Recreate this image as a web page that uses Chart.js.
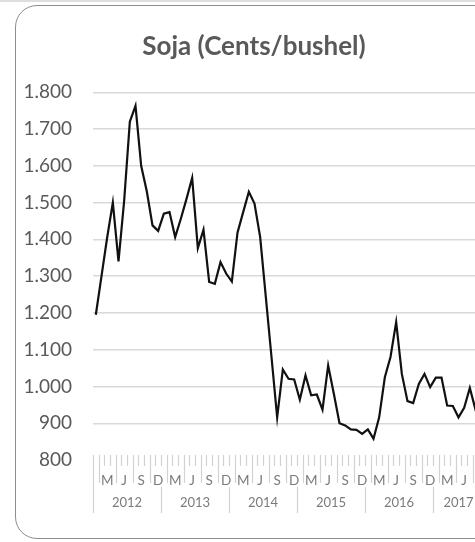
<!DOCTYPE html>
<html>
<head>
<meta charset="utf-8">
<script src="https://cdn.jsdelivr.net/npm/chart.js@4.4.1/dist/chart.umd.min.js"></script>
<style>
  html, body { margin: 0; padding: 0; background: #fff; overflow: hidden; }
  .strip { position: absolute; left: 0; top: 0; width: 100%; height: 2px; background: #dedede; }
  .card {
    position: absolute; left: 15px; top: 5px; width: 560px; height: 534px;
    border: 1.5px solid #8d8d94; border-radius: 22px; box-sizing: border-box;
  }
  .wrap { position: absolute; left: 0; top: 0; width: 500px; height: 542px; }
</style>
</head>
<body>
<div class="strip"></div>
<div class="card"></div>
<div class="wrap"><canvas id="canvasSoja"></canvas></div>
<script>
// Soja, cents/bushel, monthly from Jan 2012 to Sep 2017
const years = ['2012', '2013', '2014', '2015', '2016', '2017'];
const monthLetters = ['J', 'F', 'M', 'A', 'M', 'J', 'J', 'A', 'S', 'O', 'N', 'D'];
const sojaValues = [
    1195, 1300, 1405, 1500, 1340, 1505, 1720, 1763, 1600, 1530, 1438, 1423, // 2012
    1470, 1474, 1406, 1456, 1510, 1567, 1376, 1426, 1284, 1279, 1338, 1307, // 2013
    1285, 1418, 1474, 1529, 1497, 1406, 1243, 1080, 916, 1046, 1021, 1019,  // 2014
    964, 1030, 976, 978, 937, 1057, 980, 900, 894, 883, 882, 871,           // 2015
    883, 858, 916, 1025, 1080, 1175, 1034, 960, 955, 1007, 1034, 998,       // 2016
    1024, 1024, 948, 947, 916, 942, 996, 937, 955                           // 2017
];
const yTicks = { min: 800, max: 1800, step: 100 };

const monthLabels = sojaValues.map((v, i) => monthLetters[i % 12]);

const fmtThousands = (v) => {
    const s = String(v);
    return s.length > 3 ? s.slice(0, s.length - 3) + '.' + s.slice(-3) : s;
};

const FONT = 'Lato';

// draws the tick marks, label separators and the year row under the months
const yearAxisPlugin = {
    id: 'yearAxis',
    afterDraw(chart) {
        const x = chart.scales.x;
        const ctx = chart.ctx;
        const step = x.getPixelForValue(1) - x.getPixelForValue(0);
        const edge = (k) => x.getPixelForValue(k) - step / 2;
        const y0 = x.top;

        ctx.save();
        ctx.strokeStyle = '#d2d2d2';
        ctx.lineWidth = 1.2;
        const seg = (px, a, b) => {
            ctx.beginPath();
            ctx.moveTo(px, a);
            ctx.lineTo(px, b);
            ctx.stroke();
        };
        for (let k = 0; k <= sojaValues.length; k++) {
            const px = Math.round(edge(k)) + 0.5;
            if (k === 0) {
                seg(px, y0 - 5, y0 + 53);
            } else if (k % 12 === 0) {
                seg(px, y0 - 5, y0 + 6);
                seg(px, y0 + 27, y0 + 53);
            } else if (k % 3 === 1) {
                seg(px, y0 - 5, y0 + 23);
            } else {
                seg(px, y0 - 5, y0 + 6);
            }
        }

        ctx.fillStyle = '#7b7b7b';
        ctx.font = `13px ${FONT}`;
        ctx.textAlign = 'center';
        ctx.textBaseline = 'middle';
        years.forEach((yr, j) => {
            const first = j * 12;
            const last = Math.min(first + 11, sojaValues.length - 1);
            const cx = (edge(first) + edge(last + 1)) / 2;
            ctx.fillText(yr, cx, y0 + 43);
        });
        ctx.restore();
    }
};

const chartCanvas = document.getElementById('canvasSoja');

new Chart(chartCanvas, {
    type: 'line',
    data: {
        labels: monthLabels,
        datasets: [{
            label: 'Soja',
            data: sojaValues,
            borderColor: '#111111',
            borderWidth: 2.2,
            pointRadius: 0,
            tension: 0,
            fill: false
        }]
    },
    options: {
        responsive: true,
        maintainAspectRatio: false,
        animation: false,
        layout: { padding: { left: 24, right: 16, top: 0, bottom: 0 } },
        plugins: {
            legend: { display: false },
            tooltip: { enabled: false },
            title: {
                display: true,
                text: 'Soja (Cents/bushel)',
                color: '#595959',
                font: { family: FONT, size: 26, weight: 'bold' },
                padding: { top: 31, bottom: 30 }
            }
        },
        scales: {
            x: {
                type: 'category',
                offset: true,
                grid: { display: false },
                border: { display: false },
                ticks: {
                    autoSkip: false,
                    maxRotation: 0,
                    minRotation: 0,
                    padding: 5,
                    color: '#7b7b7b',
                    font: { family: FONT, size: 13.5 },
                    callback: (value, index) => (index % 3 === 2 ? monthLabels[index] : '')
                },
                afterFit: (s) => { s.height = 82; }
            },
            y: {
                min: yTicks.min,
                max: yTicks.max,
                border: { display: false },
                grid: {
                    drawTicks: false,
                    lineWidth: 1.4,
                    color: (c) => (c.tick && c.tick.value === yTicks.min ? 'rgba(0,0,0,0)' : '#d9d9d9')
                },
                ticks: {
                    stepSize: yTicks.step,
                    padding: 21,
                    color: '#595959',
                    font: { family: FONT, size: 19 },
                    callback: (v) => fmtThousands(v)
                },
                afterFit: (s) => { s.width = 69; }
            }
        }
    },
    plugins: [yearAxisPlugin]
});
</script>
</body>
</html>
